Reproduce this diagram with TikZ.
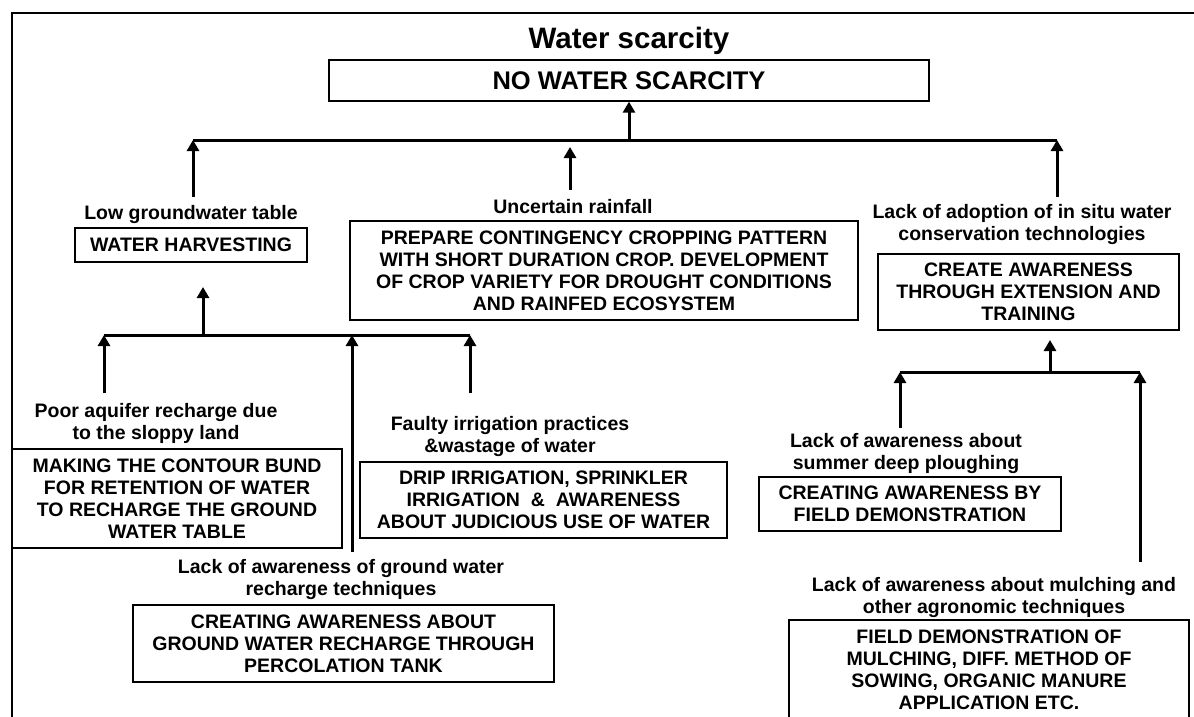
\documentclass[tikz,border=0pt]{standalone}
\usepackage{fontspec}
\setmainfont{Liberation Sans}
\usetikzlibrary{arrows.meta}
\begin{document}
\begin{tikzpicture}[x=1pt,y=-1pt,
  box/.style={draw, line width=1.3pt, inner sep=0pt, align=center, font=\bfseries\fontsize{19.5}{22}\selectfont},
  lbl/.style={inner sep=0pt, align=center, font=\bfseries\fontsize{19.5}{22}\selectfont},
  conn/.style={line width=3pt},
  arr/.style={line width=3pt, -{Triangle[width=12pt,length=11pt]}}]
\useasboundingbox (0,0) rectangle (1194,717);
\clip (0,0) rectangle (1194,717);
\fill[white] (0,0) rectangle (1194,717);
% frame
\draw[line width=2pt] (12,717) -- (12,13) -- (1194,13);
% title and goal
\node[lbl, font=\bfseries\fontsize{29.5}{33}\selectfont] (title) at (629,41) {Water scarcity};
\node[box, minimum width=600pt, minimum height=41pt, font=\bfseries\fontsize{25.5}{28}\selectfont] (goal) at (629,80.5) {NO WATER SCARCITY};
% main bus
\coordinate (busL) at (193,140);
\coordinate (busR) at (1057,140);
\coordinate (busC) at (629,140);
\draw[conn] (busL) -- (busR);
\draw[arr] (busC) -- (goal.south);
\coordinate (aL) at (193,197);
\coordinate (aM0) at (570,190);
\coordinate (aM1) at (570,147);
\coordinate (aR) at (1057,197);
\draw[arr] (aL) -- (busL);
\draw[arr] (aM0) -- (aM1);
\draw[arr] (aR) -- (busR);
% level 1 labels and boxes
\node[lbl] (lg) at (191,214) {Low groundwater table};
\node[box, minimum width=232pt, minimum height=34pt] (harv) at (191,245) {WATER HARVESTING};
\node[lbl] (ur) at (573,207) {Uncertain rainfall};
\node[box, minimum width=508pt, minimum height=99pt] (prep) at (604,270.5) {PREPARE CONTINGENCY CROPPING PATTERN\\WITH SHORT DURATION CROP. DEVELOPMENT\\OF CROP VARIETY FOR DROUGHT CONDITIONS\\AND RAINFED ECOSYSTEM};
\node[lbl] (la) at (1022,224) {Lack of adoption of in situ water\\conservation technologies};
\node[box, minimum width=301pt, minimum height=76pt] (create) at (1028.5,292) {CREATE AWARENESS\\THROUGH EXTENSION AND\\TRAINING};
% left sub-tree
\coordinate (sbL) at (104,335);
\coordinate (sbR) at (470,335);
\coordinate (sbC) at (203,335);
\coordinate (sbM) at (352,335);
\coordinate (harvTip) at (203,287);
\draw[conn] (sbL) -- (sbR);
\draw[arr] (sbC) -- (harvTip);
\coordinate (s1) at (104,393);
\coordinate (s2) at (352,552);
\coordinate (s3) at (470,393);
\draw[arr] (s1) -- (sbL);
\draw[arr] (s2) -- (sbM);
\draw[arr] (s3) -- (sbR);
\node[lbl] (pa) at (156,423.5) {Poor aquifer recharge due\\to the sloppy land};
\node[box, minimum width=330pt, minimum height=99pt] (bund) at (177,498.5) {MAKING THE CONTOUR BUND\\FOR RETENTION OF WATER\\TO RECHARGE THE GROUND\\WATER TABLE};
\node[lbl] (fi) at (510,436) {Faulty irrigation practices\\\&wastage of water};
\node[box, minimum width=367pt, minimum height=76pt] (drip) at (543.5,500) {DRIP IRRIGATION, SPRINKLER\\IRRIGATION \ \& \ AWARENESS\\ABOUT JUDICIOUS USE OF WATER};
\node[lbl] (lw) at (341,579.5) {Lack of awareness of ground water\\recharge techniques};
\node[box, minimum width=421pt, minimum height=77pt] (perc) at (343.5,643.5) {CREATING AWARENESS ABOUT\\GROUND WATER RECHARGE THROUGH\\PERCOLATION TANK};
% right sub-tree
\coordinate (rbL) at (900,372);
\coordinate (rbR) at (1140,372);
\coordinate (rbC) at (1050,372);
\coordinate (createTip) at (1050,340);
\draw[conn] (rbL) -- (rbR);
\draw[arr] (rbC) -- (createTip);
\coordinate (r1) at (900,428);
\coordinate (r2) at (1140,562);
\draw[arr] (r1) -- (rbL);
\draw[arr] (r2) -- (rbR);
\node[lbl] (ld) at (906,453.5) {Lack of awareness about\\summer deep ploughing};
\node[box, minimum width=302pt, minimum height=54pt] (plough) at (910,504) {CREATING AWARENESS BY\\FIELD DEMONSTRATION};
\node[lbl] (lm) at (994,597.5) {Lack of awareness about mulching and\\other agronomic techniques};
\node[box, minimum width=400pt, minimum height=99pt] (mulch) at (989,669.5) {FIELD DEMONSTRATION OF\\MULCHING, DIFF. METHOD OF\\SOWING, ORGANIC MANURE\\APPLICATION ETC.};
\end{tikzpicture}
\end{document}
